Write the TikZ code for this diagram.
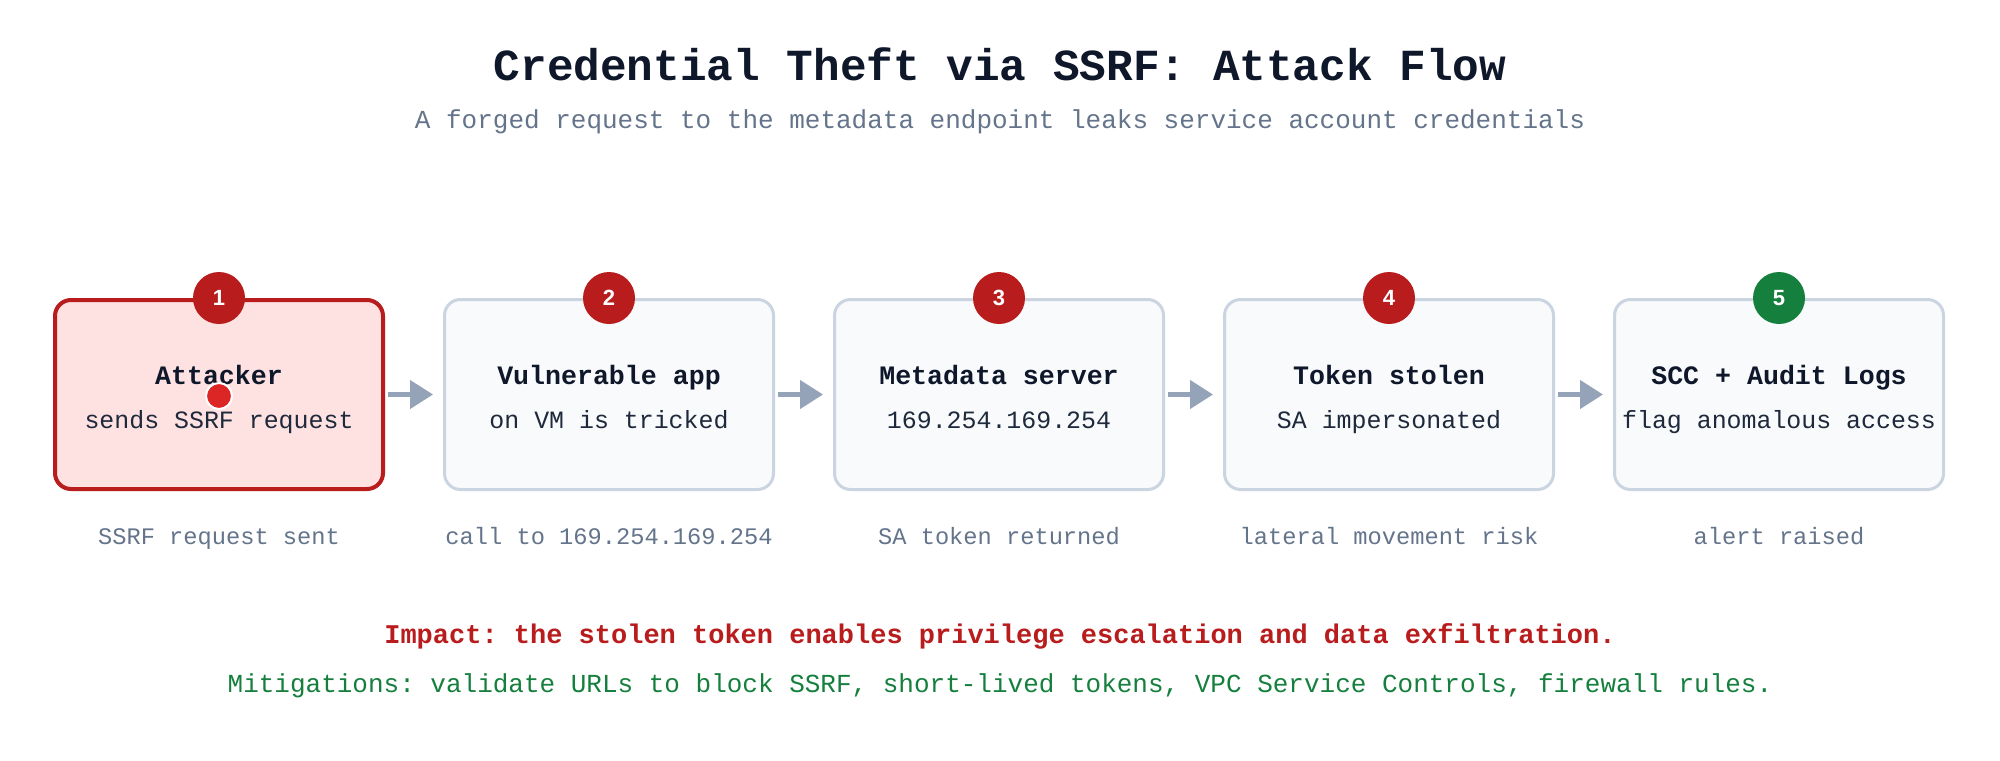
\documentclass[tikz,border=0pt]{standalone}
\usepackage{fontspec}
\setmainfont{Liberation Mono}
\newfontfamily\badgefont{Liberation Sans}
\usetikzlibrary{arrows.meta}
\frenchspacing

\definecolor{ink}{HTML}{0F172A}
\definecolor{bodyink}{HTML}{1E293B}
\definecolor{muted}{HTML}{64748B}
\definecolor{cardline}{HTML}{CBD5E1}
\definecolor{cardfill}{HTML}{F8FAFC}
\definecolor{alertred}{HTML}{B91C1C}
\definecolor{alertfill}{HTML}{FEE2E2}
\definecolor{dotred}{HTML}{DC2626}
\definecolor{okgreen}{HTML}{15803D}
\definecolor{arrowgray}{HTML}{94A3B8}

\tikzset{
  card/.style={draw=cardline, fill=cardfill, line width=1.5pt, rounded corners=8pt,
    minimum width=164.5pt, minimum height=95pt, inner sep=0pt},
  attackcard/.style={card, draw=alertred, fill=alertfill, line width=2pt,
    minimum width=164pt, minimum height=94.5pt},
  badge/.style={circle, fill=alertred, minimum size=26pt, inner sep=0pt,
    text=white, font=\badgefont\bfseries\fontsize{11}{11}\selectfont},
  cardtitle/.style={anchor=base, text=ink, font=\bfseries\fontsize{13.3}{16}\selectfont},
  carddesc/.style={anchor=base, text=bodyink, font=\fontsize{12.45}{15}\selectfont},
  caption/.style={anchor=base, text=muted, font=\fontsize{11.85}{14}\selectfont},
  flowarrow/.style={draw=arrowgray, line width=2.2pt,
    -{Triangle[length=11.5pt, width=14pt]}, shorten <=1.5pt, shorten >=5pt},
  probe/.style={circle, fill=dotred, draw=white, line width=1pt, minimum size=13pt, inner sep=0pt}
}

\begin{document}
\begin{tikzpicture}[x=0.5pt,y=-0.5pt]
    % Marco del dibujo
    \useasboundingbox[fill=white] (0,0) rectangle (2000,760);

    % Titulo y subtitulo
    \node[anchor=base, text=ink, font=\bfseries\fontsize{22.2}{26}\selectfont] (title) at (1000,80)
        {Credential Theft via SSRF: Attack Flow};
    \node[anchor=base, text=muted, font=\fontsize{13}{16}\selectfont] (subtitle) at (1000,128)
        {A forged request to the metadata endpoint leaks service account credentials};

    % Tarjetas de los pasos
    \node[attackcard] (attacker) at (219,394.5) {};
    \node[card] (app) at (609,394.5) {};
    \node[card] (meta) at (999,394.5) {};
    \node[card] (token) at (1389,394.5) {};
    \node[card] (scc) at (1779,394.5) {};

    % Flechas entre los pasos
    \draw[flowarrow] (attacker) -- (app);
    \draw[flowarrow] (app) -- (meta);
    \draw[flowarrow] (meta) -- (token);
    \draw[flowarrow] (token) -- (scc);

    % Numeros de los pasos
    \node[badge] (n1) at (attacker.north) {1};
    \node[badge] (n2) at (app.north) {2};
    \node[badge] (n3) at (meta.north) {3};
    \node[badge] (n4) at (token.north) {4};
    \node[badge, fill=okgreen] (n5) at (scc.north) {5};

    % Textos de las tarjetas
    \node[cardtitle] (attackertitle) at (219,384) {Attacker};
    \node[carddesc] (attackerdesc) at (219,428) {sends SSRF request};
    \node[cardtitle] (apptitle) at (609,384) {Vulnerable app};
    \node[carddesc] (appdesc) at (609,428) {on VM is tricked};
    \node[cardtitle] (metatitle) at (999,384) {Metadata server};
    \node[carddesc] (metadesc) at (999,428) {169.254.169.254};
    \node[cardtitle] (tokentitle) at (1389,384) {Token stolen};
    \node[carddesc] (tokendesc) at (1389,428) {SA impersonated};
    \node[cardtitle] (scctitle) at (1779,384) {SCC + Audit Logs};
    \node[carddesc] (sccdesc) at (1779,428) {flag anomalous access};

    % Punto rojo de la peticion
    \node[probe] (request) at (219,396) {};

    % Leyendas bajo las tarjetas
    \node[caption] (c1) at (219,544) {SSRF request sent};
    \node[caption] (c2) at (609,544) {call to 169.254.169.254};
    \node[caption] (c3) at (999,544) {SA token returned};
    \node[caption] (c4) at (1389,544) {lateral movement risk};
    \node[caption] (c5) at (1779,544) {alert raised};

    % Impacto y mitigaciones
    \node[anchor=base, text=alertred, font=\bfseries\fontsize{13.5}{16}\selectfont] (impact) at (1000,643)
        {Impact: the stolen token enables privilege escalation and data exfiltration.};
    \node[anchor=base, text=okgreen, font=\fontsize{13}{16}\selectfont] (mitigation) at (1000,692)
        {Mitigations: validate URLs to block SSRF, short-lived tokens, VPC Service Controls, firewall rules.};
\end{tikzpicture}
\end{document}
